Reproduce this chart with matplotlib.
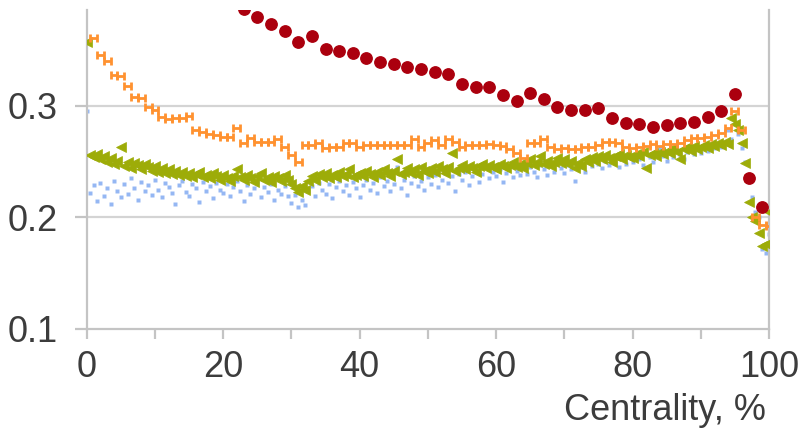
import numpy as np
import matplotlib
matplotlib.use("Agg")
import matplotlib.pyplot as plt

plt.rcParams['font.family'] = ['Liberation Sans', 'DejaVu Sans']

# ---- data ----
red_x = [23, 25, 27, 29, 31, 33, 35, 37, 39, 41, 43, 45, 47, 49, 51, 53, 55, 57, 59, 61,
         63, 65, 67, 69, 71, 73, 75, 77, 79, 81, 83, 85, 87, 89, 91, 93, 95, 97, 99]
red_y = [0.387, 0.380, 0.373, 0.367, 0.357, 0.363, 0.351, 0.349, 0.347, 0.343,
         0.339, 0.338, 0.335, 0.333, 0.330, 0.329, 0.320, 0.317, 0.317, 0.310,
         0.304, 0.312, 0.306, 0.299, 0.296, 0.296, 0.298, 0.289, 0.285, 0.284,
         0.281, 0.283, 0.285, 0.286, 0.290, 0.295, 0.311, 0.235, 0.209]

orange_x = list(range(1, 101))
orange_y = [0.361, 0.346, 0.340, 0.328, 0.327, 0.318, 0.308, 0.307, 0.299, 0.296,
            0.290, 0.288, 0.289, 0.289, 0.291, 0.278, 0.277, 0.275, 0.274, 0.272,
            0.272, 0.280, 0.267, 0.271, 0.268, 0.268, 0.268, 0.270, 0.263, 0.256,
            0.250, 0.265, 0.265, 0.267, 0.262, 0.263, 0.263, 0.267, 0.267, 0.263,
            0.265, 0.265, 0.265, 0.265, 0.265, 0.265, 0.265, 0.270, 0.263, 0.267,
            0.269, 0.265, 0.270, 0.268, 0.263, 0.265, 0.265, 0.265, 0.266, 0.265,
            0.264, 0.261, 0.258, 0.253, 0.267, 0.267, 0.270, 0.263, 0.261, 0.262,
            0.261, 0.261, 0.263, 0.263, 0.265, 0.268, 0.268, 0.267, 0.263, 0.262,
            0.263, 0.264, 0.266, 0.264, 0.266, 0.266, 0.267, 0.269, 0.271, 0.271,
            0.272, 0.274, 0.276, 0.280, 0.295, 0.278, 0.235, 0.200, 0.193, 0.192]
orange_err = 0.5

green_x = list(np.arange(0, 100.5, 0.5))
green_y = [0.357, 0.256, 0.254, 0.257, 0.252, 0.255, 0.250, 0.253, 0.248, 0.251,
           0.263, 0.246, 0.250, 0.244, 0.249, 0.247, 0.243, 0.248, 0.245, 0.242,
           0.246, 0.241, 0.244, 0.240, 0.243, 0.239, 0.242, 0.238, 0.241, 0.237,
           0.240, 0.236, 0.239, 0.241, 0.236, 0.238, 0.235, 0.240, 0.237, 0.234,
           0.238, 0.235, 0.233, 0.237, 0.243, 0.236, 0.234, 0.238, 0.235, 0.232,
           0.237, 0.240, 0.234, 0.236, 0.232, 0.237, 0.235, 0.233, 0.238, 0.234,
           0.230, 0.226, 0.223, 0.228, 0.225, 0.233, 0.237, 0.234, 0.239, 0.236,
           0.240, 0.235, 0.238, 0.236, 0.241, 0.237, 0.239, 0.243, 0.236, 0.238,
           0.240, 0.237, 0.242, 0.239, 0.236, 0.241, 0.238, 0.243, 0.240, 0.237,
           0.242, 0.252, 0.239, 0.241, 0.244, 0.240, 0.243, 0.238, 0.245, 0.242,
           0.240, 0.244, 0.241, 0.246, 0.243, 0.240, 0.245, 0.258, 0.242, 0.244,
           0.247, 0.243, 0.246, 0.244, 0.241, 0.246, 0.248, 0.244, 0.247, 0.245,
           0.243, 0.248, 0.246, 0.244, 0.247, 0.250, 0.245, 0.248, 0.244, 0.249,
           0.252, 0.247, 0.250, 0.255, 0.248, 0.251, 0.246, 0.250, 0.253, 0.249,
           0.252, 0.248, 0.251, 0.244, 0.249, 0.246, 0.252, 0.250, 0.254, 0.251,
           0.255, 0.252, 0.256, 0.253, 0.250, 0.255, 0.257, 0.252, 0.256, 0.254,
           0.253, 0.257, 0.255, 0.259, 0.244, 0.256, 0.258, 0.255, 0.259, 0.257,
           0.260, 0.258, 0.262, 0.259, 0.252, 0.261, 0.263, 0.260, 0.264, 0.261,
           0.263, 0.265, 0.262, 0.266, 0.264, 0.267, 0.265, 0.268, 0.266, 0.289,
           0.284, 0.278, 0.267, 0.249, 0.214, 0.200, 0.197, 0.186, 0.174, 0.176, 0.205]

blue_x = list(np.arange(0, 100.5, 0.5))
blue_y = [0.295, 0.222, 0.229, 0.215, 0.231, 0.219, 0.226, 0.212, 0.233, 0.224,
          0.218, 0.230, 0.221, 0.235, 0.226, 0.216, 0.232, 0.224, 0.229, 0.220,
          0.234, 0.225, 0.218, 0.231, 0.227, 0.222, 0.212, 0.229, 0.233, 0.223,
          0.219, 0.230, 0.226, 0.214, 0.232, 0.224, 0.228, 0.217, 0.231, 0.225,
          0.222, 0.230, 0.219, 0.227, 0.233, 0.224, 0.215, 0.229, 0.221, 0.226,
          0.232, 0.218, 0.227, 0.223, 0.230, 0.216, 0.225, 0.221, 0.228, 0.219,
          0.213, 0.220, 0.209, 0.216, 0.211, 0.224, 0.228, 0.219, 0.231, 0.225,
          0.221, 0.230, 0.217, 0.227, 0.233, 0.224, 0.229, 0.220, 0.232, 0.226,
          0.218, 0.229, 0.234, 0.225, 0.231, 0.222, 0.236, 0.228, 0.233, 0.224,
          0.230, 0.245, 0.226, 0.234, 0.220, 0.231, 0.237, 0.228, 0.233, 0.225,
          0.236, 0.230, 0.238, 0.227, 0.234, 0.240, 0.231, 0.237, 0.224, 0.239,
          0.234, 0.241, 0.229, 0.237, 0.243, 0.232, 0.239, 0.245, 0.235, 0.241,
          0.237, 0.243, 0.232, 0.240, 0.246, 0.236, 0.242, 0.238, 0.244, 0.239,
          0.245, 0.241, 0.236, 0.247, 0.243, 0.238, 0.246, 0.241, 0.248, 0.244,
          0.240, 0.247, 0.243, 0.233, 0.249, 0.245, 0.241, 0.250, 0.246, 0.252,
          0.248, 0.244, 0.251, 0.247, 0.253, 0.249, 0.245, 0.252, 0.248, 0.254,
          0.250, 0.256, 0.252, 0.247, 0.258, 0.254, 0.250, 0.257, 0.262, 0.255,
          0.251, 0.258, 0.254, 0.260, 0.256, 0.252, 0.259, 0.263, 0.257, 0.261,
          0.258, 0.263, 0.260, 0.265, 0.262, 0.266, 0.263, 0.268, 0.278, 0.270,
          0.285, 0.275, 0.262, 0.250, 0.236, 0.218, 0.205, 0.200, 0.172, 0.168, 0.185]

x_ticks = [0, 20, 40, 60, 80, 100]
y_ticks = [0.1, 0.2, 0.3]
x_label = "Centrality, %"

# ---- figure ----
fig = plt.figure(figsize=(8.05, 4.34), dpi=100)
ax = fig.add_axes([0.1077, 0.242, 0.8476, 0.735])

ax.set_xlim(0, 100)
ax.set_ylim(0.1, 0.386)

for yv in [0.2, 0.3]:
    ax.axhline(yv, color='#d4d4d4', lw=1.6, zorder=0)

ax.plot(blue_x, blue_y, linestyle='none', marker='s', ms=2.6, mfc='#8ab0f2',
        mec='none', alpha=0.9, zorder=2)
ax.plot(green_x, green_y, linestyle='none', marker='<', ms=6.5, mfc='#9dac08',
        mec='#9dac08', mew=0.5, zorder=3)
ax.errorbar(orange_x, orange_y, xerr=orange_err, fmt='none', ecolor='#ff9230',
            elinewidth=2.0, capsize=2.8, capthick=2.0, zorder=4)
ax.plot(red_x, red_y, linestyle='none', marker='o', ms=8.2, mfc='#ab000e',
        mec='#ab000e', zorder=5)

ax.spines['top'].set_visible(False)
for s in ['left', 'right', 'bottom']:
    ax.spines[s].set_color('#c4c4c4')
    ax.spines[s].set_linewidth(1.6)

ax.set_xticks(x_ticks)
ax.set_xticks(list(range(0, 101, 10)), minor=True)
ax.set_yticks(y_ticks)
ax.set_yticklabels(['0.1', '0.2', '0.3'])
ax.tick_params(axis='both', which='both', color='#c4c4c4', width=1.6,
               labelcolor='#3c3c3c', labelsize=26)
ax.tick_params(axis='x', which='both', length=7, direction='out', pad=8)
ax.tick_params(axis='y', length=9, direction='out', pad=12)

fig.text(0.951, 0.055, x_label, ha='right', va='center', fontsize=26, color='#3c3c3c')

fig.savefig('out.png', dpi=100, facecolor='white')
